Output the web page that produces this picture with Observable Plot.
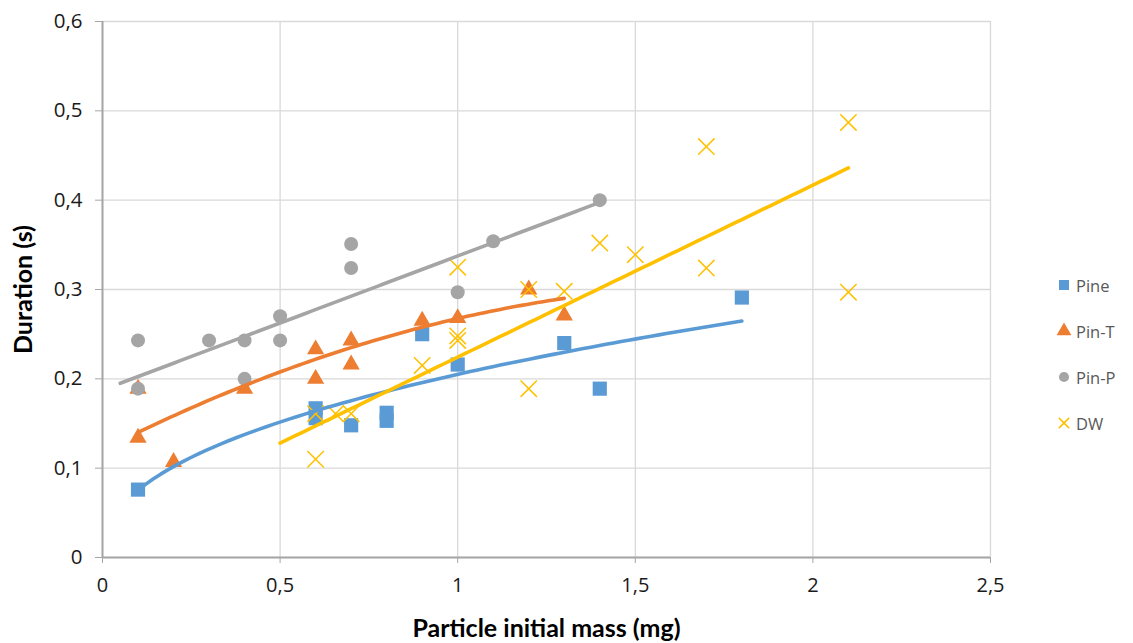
<!DOCTYPE html>
<html><head><meta charset="utf-8">
<script src="https://cdn.jsdelivr.net/npm/d3@7"></script>
<script src="https://cdn.jsdelivr.net/npm/@observablehq/plot@0.6"></script>
<style>
body{margin:0;background:#fff;}
#wrap{position:relative;width:1133px;height:643px;}
#legend{position:absolute;left:1055px;top:262px;font-family:"Open Sans",sans-serif;font-size:16.5px;color:#595959;}
#legend div{height:46px;display:flex;align-items:center;}
#legend svg{margin-right:3px;}
</style></head><body><div id="wrap"><div id="legend"></div></div>
<script>
// ---- data ----
const seriesNames = ["Pine", "Pin-T", "Pin-P", "DW"];
const colors = ["#5B9BD5", "#ED7D31", "#A5A5A5", "#FFC000"];

const pineX = [0.1, 0.6, 0.6, 0.7, 0.8, 0.8, 0.9, 1.0, 1.3, 1.4, 1.8];
const pineY = [0.076, 0.167, 0.156, 0.148, 0.162, 0.153, 0.25, 0.216, 0.24, 0.189, 0.291];

const pinTX = [0.1, 0.1, 0.2, 0.4, 0.6, 0.6, 0.7, 0.7, 0.9, 1.0, 1.2, 1.3];
const pinTY = [0.134, 0.189, 0.107, 0.189, 0.233, 0.2, 0.243, 0.216, 0.265, 0.268, 0.3, 0.271];

const pinPX = [0.1, 0.1, 0.3, 0.4, 0.4, 0.5, 0.5, 0.7, 0.7, 1.0, 1.1, 1.4];
const pinPY = [0.243, 0.189, 0.243, 0.243, 0.2, 0.27, 0.243, 0.351, 0.324, 0.297, 0.354, 0.4];

const dwX = [0.6, 0.6, 0.656, 0.7, 0.9, 1.0, 1.0, 1.0, 1.2, 1.2, 1.3, 1.4, 1.5, 1.7, 1.7, 2.1, 2.1];
const dwY = [0.11, 0.161, 0.161, 0.161, 0.215, 0.325, 0.248, 0.243, 0.3, 0.189, 0.298, 0.352, 0.339, 0.46, 0.324, 0.487, 0.297];

// trendline coefficients
// power: y = c0*x^c1 ; poly2: y = c0 + c1*x + c2*x^2 ; linear: y = c0 + c1*x
const trendTypes = ["power", "poly2", "linear", "linear"];
const trendC0 = [0.205, 0.1203, 0.1875, 0.0318];
const trendC1 = [0.435, 0.2025, 0.150, 0.1925];
const trendC2 = [0, -0.0553, 0, 0];
const trendFrom = [0.1, 0.1, 0.05, 0.5];
const trendTo = [1.8, 1.3, 1.4, 2.1];

const xTicks = [0, 0.5, 1, 1.5, 2, 2.5];
const yTicks = [0, 0.1, 0.2, 0.3, 0.4, 0.5, 0.6];
const xTitle = "Particle initial mass (mg)";
const yTitle = "Duration (s)";

// ---- build ----
const xs = [pineX, pinTX, pinPX, dwX];
const ys = [pineY, pinTY, pinPY, dwY];
const pts = xs.map((X, s) => X.map((x, i) => ({x, y: ys[s][i], s})));

function trend(s) {
  const c0 = trendC0[s], c1 = trendC1[s], c2 = trendC2[s];
  const f = trendTypes[s] === "power" ? (x => c0 * Math.pow(x, c1)) : (x => c0 + c1 * x + c2 * x * x);
  const n = 80, x0 = trendFrom[s], x1 = trendTo[s];
  return d3.range(n + 1).map(i => { const x = x0 + (x1 - x0) * i / n; return {x, y: f(x), s}; });
}
const trends = [0, 1, 2, 3].map(trend);

const fmt = d => String(d).replace(".", ",");
const font = "'Open Sans', sans-serif";

const symbols = ["square", "triangle", "circle", "times"];
const radii = [8, 6.4, 7, 7.5];

const markerMarks = pts.map((P, s) => Plot.dot(P, {
  x: "x", y: "y", symbol: () => symbols[s], r: radii[s],
  fill: s === 3 ? "none" : colors[s],
  stroke: s === 3 ? colors[s] : "none",
  strokeWidth: s === 3 ? 1.5 : 0
}));
const trendMarks = trends.map((T, s) => Plot.line(T, {
  x: "x", y: "y", stroke: colors[s], strokeWidth: 3.6, strokeLinecap: "round", curve: "linear"
}));

const chart = Plot.plot({
  width: 1133, height: 643,
  marginLeft: 102, marginRight: 143, marginTop: 21, marginBottom: 86,
  style: {fontFamily: font, background: "#fff"},
  x: {domain: [0, 2.5], ticks: xTicks},
  y: {domain: [0, 0.6], ticks: yTicks},
  marks: [
    Plot.gridX(xTicks, {stroke: "#d9d9d9", strokeOpacity: 1, strokeWidth: 1.3}),
    Plot.gridY(yTicks, {stroke: "#d9d9d9", strokeOpacity: 1, strokeWidth: 1.3}),
    Plot.axisX(xTicks, {tickSize: 6, tickPadding: 14, tickFormat: fmt, fontSize: 20, stroke: "#a6a6a6", fill: "#1a1a1a", label: null}),
    Plot.axisY(yTicks, {tickSize: 7, tickPadding: 13, tickFormat: fmt, fontSize: 20.5, stroke: "#a6a6a6", fill: "#1a1a1a", label: null}),
    Plot.ruleY([0], {stroke: "#a6a6a6", strokeWidth: 2}),
    Plot.ruleX([0], {stroke: "#a6a6a6", strokeWidth: 2}),
    ...markerMarks,
    ...trendMarks,
    Plot.text([yTitle], {text: d => d, frameAnchor: "left", textAnchor: "middle", rotate: -90, dx: -79, fontSize: 25, fontWeight: "bold", fill: "#000", fontFamily: "Lato"}),
    Plot.text([xTitle], {text: d => d, frameAnchor: "bottom", textAnchor: "middle", dy: 79, fontSize: 25, fontWeight: "bold", fill: "#000", fontFamily: "Lato"})
  ]
});
document.getElementById("wrap").prepend(chart);

// legend
const lg = d3.select("#legend");
const legTypes = [d3.symbolSquare, d3.symbolTriangle, d3.symbolCircle, d3.symbolTimes];
const legSizes = [100, 95, 80, 70];
seriesNames.forEach((name, s) => {
  const row = lg.append("div");
  const sv = row.append("svg").attr("width", 18).attr("height", 18);
  const sym = d3.symbol().type(legTypes[s]).size(legSizes[s])();
  sv.append("path").attr("d", sym).attr("transform", "translate(9,9)")
    .attr("fill", s === 3 ? "none" : colors[s]).attr("stroke", s === 3 ? colors[s] : "none").attr("stroke-width", 1.5);
  row.append("span").text(name);
});
</script></body></html>
